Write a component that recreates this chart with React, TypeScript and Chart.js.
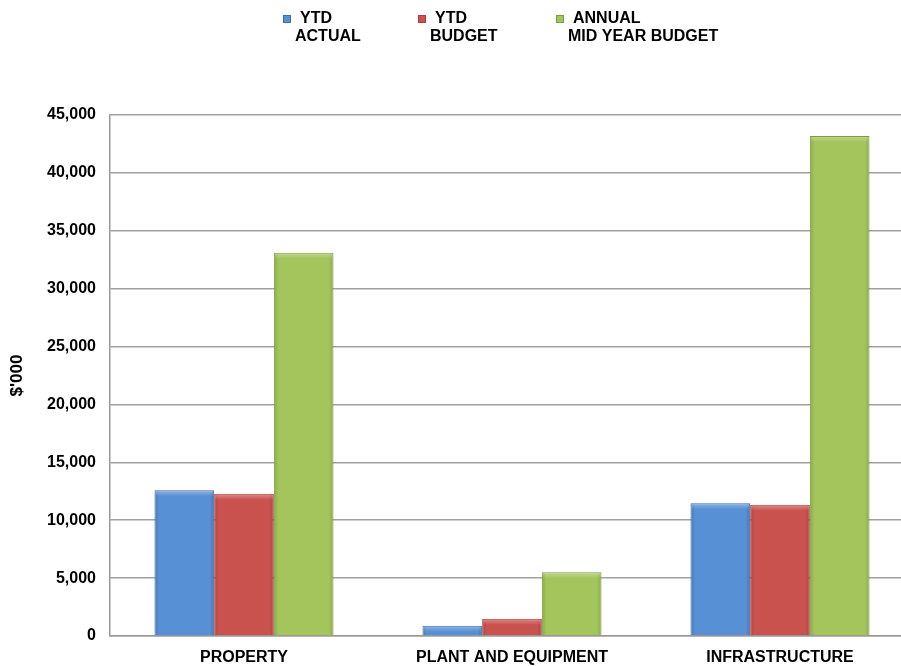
import React, { useEffect, useRef } from "react";
import { Chart, registerables } from "chart.js";

Chart.register(...registerables);

const categories = ["PROPERTY", "PLANT AND EQUIPMENT", "INFRASTRUCTURE"];
const ytdActual = [12580, 890, 11460];
const ytdBudget = [12290, 1490, 11340];
const annualMidYearBudget = [33100, 5500, 43180];
const seriesLabels = [["YTD", "ACTUAL"], ["YTD", "BUDGET"], ["ANNUAL", "MID YEAR BUDGET"]];
const yAxisTitle = "$'000";

const FONT = "'Liberation Sans', Arial, sans-serif";
const fills = ["#5790D4", "#C9524F", "#A3C55B"];
const borders = ["#3D6DAA", "#A63E3B", "#7D9A40"];

const legendPlugin = {
  id: "customLegend",
  afterDraw(chart: any) {
    const ctx = chart.ctx;
    const xs = [283, 418, 556];
    ctx.save();
    ctx.font = `bold 16px ${FONT}`;
    ctx.textBaseline = "middle";
    seriesLabels.forEach((lines, i) => {
      const x = xs[i];
      ctx.fillStyle = fills[i];
      ctx.fillRect(x, 15, 8, 8);
      ctx.strokeStyle = borders[i];
      ctx.lineWidth = 1;
      ctx.strokeRect(x + 0.5, 15.5, 7, 7);
      ctx.fillStyle = "#000";
      ctx.fillText(lines[0], x + 17, 19);
      ctx.fillText(lines[1], x + 12, 37);
    });
    ctx.restore();
  },
};

const bevelPlugin = {
  id: "bevel",
  afterDatasetsDraw(chart: any) {
    const ctx = chart.ctx;
    ctx.save();
    chart.data.datasets.forEach((_: any, di: number) => {
      const meta = chart.getDatasetMeta(di);
      meta.data.forEach((bar: any) => {
        const left = bar.x - bar.width / 2;
        const right = bar.x + bar.width / 2;
        const top = bar.y;
        const h = bar.base - bar.y;
        if (h <= 0) return;
        // side shading
        const g = ctx.createLinearGradient(left, 0, right, 0);
        g.addColorStop(0, "rgba(0,0,0,0.14)");
        g.addColorStop(0.08, "rgba(0,0,0,0)");
        g.addColorStop(0.92, "rgba(0,0,0,0)");
        g.addColorStop(1, "rgba(0,0,0,0.14)");
        ctx.fillStyle = g;
        ctx.fillRect(left + 1, top + 1, right - left - 2, h - 1);
        // top highlight
        const th = Math.min(6, h - 1);
        const tg = ctx.createLinearGradient(0, top, 0, top + th);
        tg.addColorStop(0, "rgba(255,255,255,0.35)");
        tg.addColorStop(1, "rgba(255,255,255,0)");
        ctx.fillStyle = tg;
        ctx.fillRect(left + 1, top + 1, right - left - 2, th);
      });
    });
    ctx.restore();
  },
};

export default function App() {
  const ref = useRef<HTMLCanvasElement>(null);
  useEffect(() => {
    if (!ref.current) return;
    const chart = new Chart(ref.current, {
      type: "bar",
      data: {
        labels: categories,
        datasets: [ytdActual, ytdBudget, annualMidYearBudget].map((d, i) => ({
          label: seriesLabels[i].join(" "),
          data: d,
          backgroundColor: fills[i],
          borderColor: borders[i],
          borderWidth: 1,
          categoryPercentage: 0.668,
          barPercentage: 1,
        })),
      },
      options: {
        animation: false,
        responsive: false,
        maintainAspectRatio: false,
        layout: { padding: { top: 115, right: 0, bottom: 0, left: 0 } },
        plugins: { legend: { display: false }, tooltip: { enabled: false } },
        scales: {
          x: {
            grid: { display: false, drawTicks: false },
            border: { color: "#999", width: 1.5 },
            ticks: { color: "#000", font: { family: FONT, size: 16, weight: "bold" }, padding: 12, maxRotation: 0 },
            afterFit(s: any) { s.height = 30; },
          },
          y: {
            min: 0,
            max: 45000,
            ticks: {
              stepSize: 5000,
              color: "#000",
              padding: 14,
              font: { family: FONT, size: 16, weight: "bold" },
              callback: (v: any) => Number(v).toLocaleString("en-US"),
            },
            grid: { color: "#A0A0A0", lineWidth: 1.5, drawTicks: false },
            border: { color: "#999", width: 1.5 },
            title: {
              display: true,
              text: yAxisTitle,
              color: "#000",
              font: { family: FONT, size: 17, weight: "bold" },
              padding: { top: 7, bottom: 0 },
            },
            afterFit(s: any) { s.width = 110; },
          },
        },
      },
      plugins: [legendPlugin, bevelPlugin],
    });
    return () => chart.destroy();
  }, []);
  return (
    <div style={{ position: "fixed", left: 0, top: 0, width: 901, height: 666, overflow: "hidden", background: "#fff" }}>
      <canvas ref={ref} width={914} height={666} style={{ display: "block" }} />
    </div>
  );
}
